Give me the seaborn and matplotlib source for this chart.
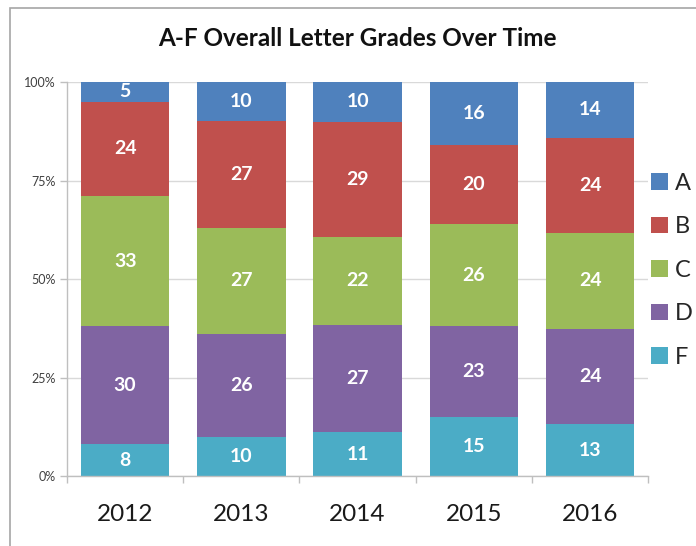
import numpy as np
import pandas as pd
import matplotlib
matplotlib.use("Agg")
import matplotlib.pyplot as plt
import seaborn as sns
from matplotlib.patches import Rectangle, Patch

years = ["2012", "2013", "2014", "2015", "2016"]
grades = ["A", "B", "C", "D", "F"]
grade_a = [5, 10, 10, 16, 14]
grade_b = [24, 27, 29, 20, 24]
grade_c = [33, 27, 22, 26, 24]
grade_d = [30, 26, 27, 23, 24]
grade_f = [8, 10, 11, 15, 13]
colors = {"A": "#4F81BD", "B": "#C0504D", "C": "#9BBB59", "D": "#8064A2", "F": "#4BACC6"}

values = {"A": grade_a, "B": grade_b, "C": grade_c, "D": grade_d, "F": grade_f}
df = pd.DataFrame(values, index=years)
pct = df.div(df.sum(axis=1), axis=0) * 100

sns.set_style("white")
plt.rcParams["font.family"] = ["Lato", "DejaVu Sans"]

fig = plt.figure(figsize=(6.96, 5.46), dpi=100)
ax = fig.add_axes([0.0963, 0.1282, 0.835, 0.7216])

# stack from the bottom: F, D, C, B, A
bottom = np.zeros(len(years))
for g in ["F", "D", "C", "B", "A"]:
    sns.barplot(x=years, y=pct[g].values, bottom=bottom, color=colors[g],
                width=0.76, saturation=1, ax=ax, zorder=2, linewidth=0)
    for i, (v, p) in enumerate(zip(df[g].values, pct[g].values)):
        ax.text(i, bottom[i] + p / 2, str(v), ha="center", va="center",
                color="white", fontsize=14, fontweight="bold", zorder=3)
    bottom += pct[g].values

ax.set_ylim(0, 100)
ax.set_xlim(-0.5, len(years) - 0.5)
ax.set_yticks([0, 25, 50, 75, 100])
ax.set_yticklabels(["0%", "25%", "50%", "75%", "100%"], fontsize=9, color="#404040")
ax.yaxis.grid(True, color="#D9D9D9", linewidth=1, zorder=0)
ax.set_axisbelow(True)
ax.tick_params(axis="y", length=5, color="#BFBFBF", width=1, pad=3, left=True)
ax.tick_params(axis="x", which="major", length=0, labelsize=17.5, pad=20, labelcolor="#1a1a1a")
ax.set_xticks(np.arange(-0.5, len(years), 1), minor=True)
ax.tick_params(axis="x", which="minor", length=5, color="#BFBFBF", width=1, bottom=True)
for side in ["top", "right"]:
    ax.spines[side].set_visible(False)
for side in ["left", "bottom"]:
    ax.spines[side].set_color("#BFBFBF")
    ax.spines[side].set_linewidth(1)
ax.set_xlabel("")
ax.set_ylabel("")

fig.text(0.513, 0.93, "A-F Overall Letter Grades Over Time", ha="center", va="center",
         fontsize=17.5, fontweight="bold", color="#111111")

handles = [Patch(facecolor=colors[g], edgecolor="none", label=g) for g in grades]
fig.legend(handles=handles, loc="center left", bbox_to_anchor=(0.922, 0.505),
           frameon=False, fontsize=17, handlelength=0.7, handleheight=0.7,
           handletextpad=0.3, labelspacing=0.95, borderaxespad=0)

fig.patches.append(Rectangle((10 / 696, -0.01), 1.0, 1 - 8 / 546 + 0.01,
                             transform=fig.transFigure, fill=False,
                             edgecolor="#A6A6A6", linewidth=1.2))

fig.savefig("out.png", dpi=100)
